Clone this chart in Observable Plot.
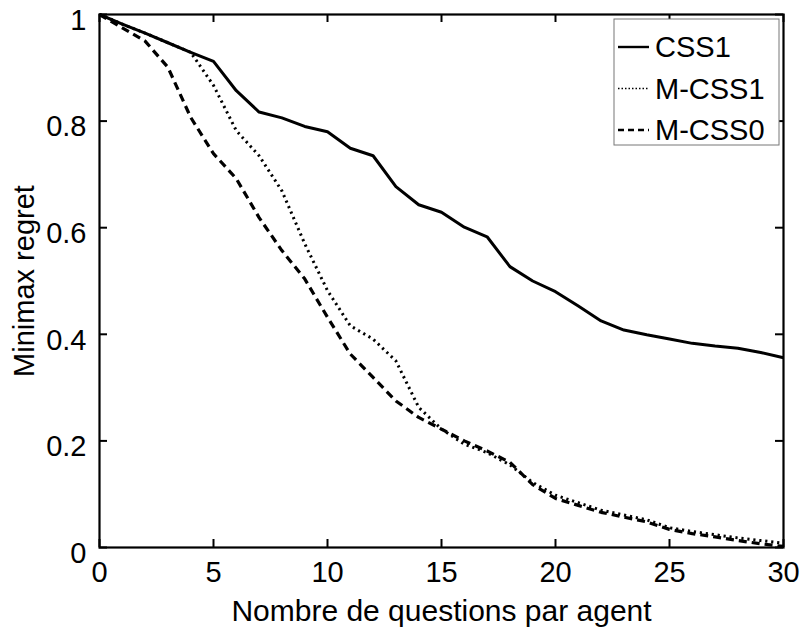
<!DOCTYPE html>
<html>
<head>
<meta charset="utf-8">
<script src="https://cdn.jsdelivr.net/npm/d3@7"></script>
<script src="https://cdn.jsdelivr.net/npm/@observablehq/plot@0.6"></script>
<style>
  html, body { margin: 0; padding: 0; background: #fff; }
  #chart svg { display: block; font-family: "Liberation Sans", Arial, Helvetica, sans-serif; }
</style>
</head>
<body>
<div id="chart"></div>
<script>
const questions = d3.range(0, 31);
const seriesNames = ["CSS1", "M-CSS1", "M-CSS0"];
const css1 = [1.000, 0.982, 0.965, 0.947, 0.929, 0.912, 0.857, 0.817, 0.806, 0.790, 0.780,
              0.749, 0.735, 0.677, 0.643, 0.629, 0.601, 0.583, 0.527, 0.500, 0.480,
              0.453, 0.425, 0.408, 0.399, 0.391, 0.383, 0.378, 0.374, 0.366, 0.356];
const mcss1 = [1.000, 0.982, 0.965, 0.947, 0.929, 0.867, 0.782, 0.735, 0.669, 0.570, 0.482,
               0.416, 0.391, 0.350, 0.263, 0.222, 0.194, 0.178, 0.155, 0.122, 0.098,
               0.084, 0.070, 0.061, 0.052, 0.037, 0.030, 0.024, 0.018, 0.013, 0.008];
const mcss0 = [1.000, 0.975, 0.950, 0.901, 0.807, 0.739, 0.692, 0.619, 0.557, 0.504, 0.432,
               0.363, 0.319, 0.275, 0.244, 0.222, 0.200, 0.181, 0.160, 0.118, 0.092,
               0.079, 0.066, 0.057, 0.048, 0.034, 0.026, 0.020, 0.013, 0.007, 0.002];
const xTicks = [0, 5, 10, 15, 20, 25, 30];
const yTicks = [0, 0.2, 0.4, 0.6, 0.8, 1];
const xLabel = "Nombre de questions par agent";
const yLabel = "Minimax regret";

const dashes = {"CSS1": null, "M-CSS1": "2.2,3.8", "M-CSS0": "8,5"};
const widths = {"CSS1": 3, "M-CSS1": 3, "M-CSS0": 3.2};

const allValues = [css1, mcss1, mcss0];
const rows = [];
seriesNames.forEach((name, i) => {
  questions.forEach((q, j) => rows.push({series: name, x: q, y: allValues[i][j]}));
});

const W = 803, H = 631;
const mL = 99, mR = 20, mT = 14, mB = 84;
const plotH = H - mT - mB, plotW = W - mL - mR;
const tickLen = 8;

const lineMarks = seriesNames.map(name =>
  Plot.line(rows.filter(d => d.series === name), {
    x: "x", y: "y", stroke: "#000",
    strokeWidth: widths[name],
    strokeDasharray: dashes[name] || undefined,
    strokeLinejoin: "round",
    strokeLinecap: "butt"
  })
);

const chart = Plot.plot({
  width: W, height: H,
  marginLeft: mL, marginRight: mR, marginTop: mT, marginBottom: mB,
  style: {fontFamily: "'Liberation Sans', Arial, sans-serif", fontSize: "29px", color: "#000", background: "#fff"},
  x: {domain: [0, 30]},
  y: {domain: [0, 1]},
  marks: [
    ...lineMarks,
    // inward ticks on all four sides
    Plot.ruleX(xTicks, {x: d => d, insetTop: plotH - tickLen, stroke: "#000", strokeWidth: 2}),
    Plot.ruleX(xTicks, {x: d => d, insetBottom: plotH - tickLen, stroke: "#000", strokeWidth: 2}),
    Plot.ruleY(yTicks, {y: d => d, insetRight: plotW - tickLen, stroke: "#000", strokeWidth: 2}),
    Plot.ruleY(yTicks, {y: d => d, insetLeft: plotW - tickLen, stroke: "#000", strokeWidth: 2}),
    Plot.frame({stroke: "#000", strokeWidth: 2.2}),
    Plot.axisX(xTicks, {anchor: "bottom", tickSize: 0, tickPadding: 14, fontSize: 29,
      tickFormat: d => String(d), label: null}),
    Plot.axisX({anchor: "bottom", ticks: [], tickSize: 0, fontSize: 30,
      label: xLabel, labelAnchor: "center", labelOffset: 73, labelArrow: "none"}),
    Plot.axisY(yTicks, {anchor: "left", tickSize: 0, tickPadding: 13, fontSize: 29, dy: 6,
      tickFormat: d => String(d), label: null}),
    Plot.axisY({anchor: "left", ticks: [], tickSize: 0, fontSize: 29,
      label: yLabel, labelAnchor: "center", labelOffset: 86, labelArrow: "none"})
  ]
});

document.getElementById("chart").appendChild(chart);

// legend (Matlab-style, north-east inside the axes)
const svg = d3.select(chart);
const lg = svg.append("g").attr("class", "legend").attr("text-anchor", "start");
const boxX = 614, boxY = 19, boxW = 165, boxH = 126, rowH = 41.5;
lg.append("rect").attr("x", boxX).attr("y", boxY).attr("width", boxW).attr("height", boxH)
  .attr("fill", "#fff").attr("stroke", "#777").attr("stroke-width", 1);
seriesNames.forEach((name, i) => {
  const cy = boxY + 28 + i * rowH;
  lg.append("line").attr("x1", boxX + 4).attr("x2", boxX + 35).attr("y1", cy).attr("y2", cy)
    .attr("stroke", "#000").attr("stroke-width", name === "M-CSS1" ? 1.6 : 2.4)
    .attr("stroke-dasharray", name === "M-CSS1" ? "1.5,2" : (dashes[name] ? "6,4" : null));
  lg.append("text").attr("x", boxX + 41).attr("y", cy).attr("dy", "0.36em")
    .attr("text-anchor", "start").attr("font-size", 29).attr("fill", "#000").text(name);
});
</script>
</body>
</html>
